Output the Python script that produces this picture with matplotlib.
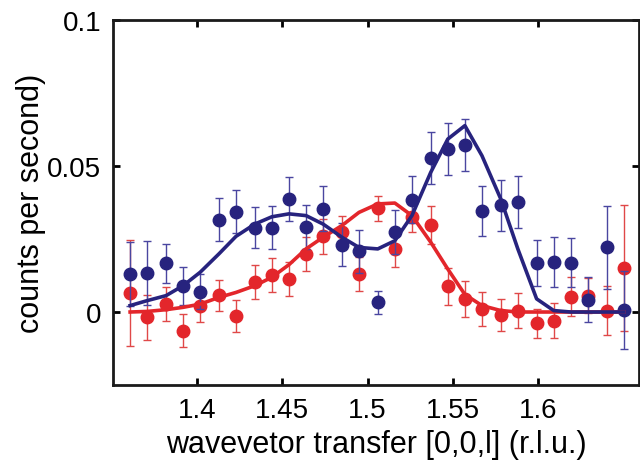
import numpy as np
import matplotlib
matplotlib.use('Agg')
import matplotlib.pyplot as plt

plt.rcParams['font.family'] = ['Liberation Sans', 'DejaVu Sans']

# data
q = [1.361, 1.371, 1.382, 1.392, 1.402, 1.413, 1.423, 1.434, 1.444, 1.454,
     1.464, 1.474, 1.485, 1.495, 1.506, 1.516, 1.526, 1.537, 1.547, 1.557,
     1.567, 1.578, 1.588, 1.599, 1.609, 1.619, 1.629, 1.640, 1.650]

blue = [0.0130, 0.0134, 0.0167, 0.0088, 0.0070, 0.0316, 0.0344, 0.0289, 0.0289, 0.0387,
        0.0290, 0.0353, 0.0231, 0.0208, 0.0033, 0.0273, 0.0385, 0.0526, 0.0558, 0.0570,
        0.0347, 0.0366, 0.0376, 0.0168, 0.0172, 0.0168, 0.0042, 0.0222, 0.0007]
blue_err = [0.0108, 0.0110, 0.0066, 0.0065, 0.0060, 0.0074, 0.0074, 0.0071, 0.0075, 0.0074,
            0.0076, 0.0077, 0.0073, 0.0073, 0.0040, 0.0076, 0.0082, 0.0089, 0.0089, 0.0089,
            0.0086, 0.0087, 0.0089, 0.0080, 0.0086, 0.0084, 0.0077, 0.0142, 0.0133]

red = [0.0065, -0.0018, 0.0027, -0.0064, 0.0022, 0.0058, -0.0013, 0.0104, 0.0127, 0.0113,
       0.0199, 0.0259, 0.0273, 0.0130, 0.0355, 0.0216, 0.0324, 0.0298, 0.0088, 0.0045,
       0.0010, -0.0010, 0.0005, -0.0038, -0.0030, 0.0052, 0.0056, 0.0005, 0.0150]
red_err = [0.0180, 0.0077, 0.0057, 0.0056, 0.0057, 0.0053, 0.0054, 0.0058, 0.0058, 0.0057,
           0.0057, 0.0060, 0.0055, 0.0057, 0.0043, 0.0062, 0.0050, 0.0066, 0.0063, 0.0062,
           0.0057, 0.0055, 0.0059, 0.0050, 0.0060, 0.0067, 0.0060, 0.0085, 0.0215]

# fitted curves (values at the same q)
blue_fit = [0.0022, 0.0039, 0.0056, 0.0090, 0.0136, 0.0199, 0.0259, 0.0301, 0.0326, 0.0336,
            0.0330, 0.0301, 0.0256, 0.0221, 0.0216, 0.0244, 0.0330, 0.0478, 0.0592, 0.0638,
            0.0535, 0.0387, 0.0216, 0.0045, 0.0005, 0.0000, 0.0000, 0.0000, 0.0000]
red_fit = [0.0000, 0.0002, 0.0008, 0.0016, 0.0027, 0.0050, 0.0067, 0.0090, 0.0119, 0.0162,
           0.0216, 0.0256, 0.0296, 0.0341, 0.0370, 0.0373, 0.0330, 0.0239, 0.0147, 0.0060,
           0.0022, 0.0005, 0.0000, 0.0000, 0.0000, 0.0000, 0.0000, 0.0000, 0.0000]

c_blue = '#27237e'
c_red = '#e3262b'

fig = plt.figure(figsize=(6.4, 4.64), dpi=100)
ax = fig.add_axes([0.1766, 0.168, 0.822, 0.787])

ax.errorbar(q, blue, yerr=blue_err, fmt='o', color=c_blue, ecolor='#4a46a0',
            elinewidth=1, capsize=3, capthick=1, markersize=9, zorder=3)
ax.errorbar(q, red, yerr=red_err, fmt='o', color=c_red, ecolor='#e04848',
            elinewidth=1, capsize=3, capthick=1, markersize=9, zorder=2)
ax.plot(q, red_fit, color=c_red, lw=2.6, zorder=4)
ax.plot(q, blue_fit, color=c_blue, lw=2.6, zorder=5)

ax.set_xlim(1.351, 1.659)
ax.set_ylim(-0.025, 0.1)
ax.set_xticks([1.4, 1.45, 1.5, 1.55, 1.6])
ax.set_xticklabels(['1.4', '1.45', '1.5', '1.55', '1.6'])
ax.set_yticks([0, 0.05, 0.1])
ax.set_yticklabels(['0', '0.05', '0.1'])
ax.tick_params(direction='in', length=5, width=2, top=True, right=True,
               labelsize=20, pad=8.5)
for s in ax.spines.values():
    s.set_linewidth(2)
    s.set_color('#1a1a1a')

ax.set_xlabel('wavevetor transfer [0,0,l] (r.l.u.)', fontsize=22)
ax.set_ylabel('counts per second)', fontsize=22)
ax.xaxis.set_label_coords(0.5, -0.12)
ax.yaxis.set_label_coords(-0.127, 0.5)

fig.savefig('out.png', dpi=100)
